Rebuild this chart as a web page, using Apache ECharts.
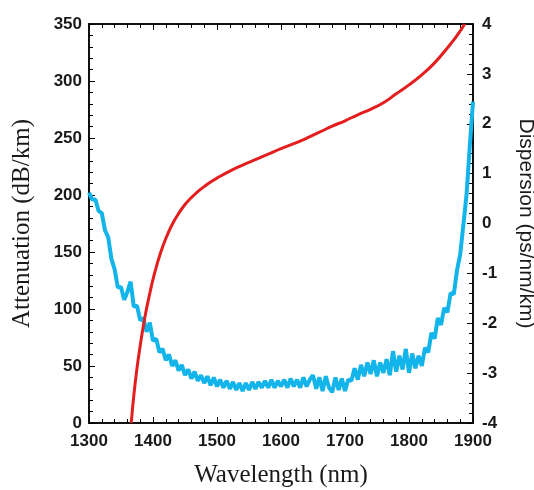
<!DOCTYPE html>
<html>
<head>
<meta charset="utf-8">
<script src="https://cdn.jsdelivr.net/npm/echarts@6/dist/echarts.min.js"></script>
<style>
  html, body { margin: 0; padding: 0; background: #fff; }
  #chart { width: 534px; height: 490px; }
</style>
</head>
<body>
<div id="chart"></div>
<script>
// 衰减：每 5 nm 一个点
var attWavelengths = [];
for (var w = 1300; w <= 1900; w += 5) attWavelengths.push(w);
var attenuation = [
  202, 196, 196, 186, 184, 169, 163, 144, 135, 119,
  119, 108, 115, 124, 102, 103, 90, 92, 80, 88,
  72, 74, 62, 65, 55, 60, 50, 55, 46, 51,
  42, 47, 39, 45, 37, 42, 35, 41, 33, 40,
  32, 38, 31, 37, 30, 36, 29, 35, 28, 35,
  29, 36, 30, 36, 31, 37, 31, 38, 31, 37,
  32, 38, 31, 39, 32, 38, 31, 40, 32, 38,
  42, 30, 40, 28, 41, 31, 27, 40, 29, 39,
  28, 38, 37, 48, 38, 51, 41, 53, 43, 55,
  41, 53, 44, 56, 42, 63, 45, 59, 47, 65,
  44, 61, 48, 59, 50, 66, 62, 79, 74, 92,
  86, 101, 97, 114, 113, 134, 148, 174, 201, 243,
  282
];

// 色散曲线
var dispWavelengths = [1366, 1370, 1375, 1380, 1385, 1390, 1395, 1400, 1405, 1410,
  1420, 1430, 1440, 1450, 1460, 1470, 1480, 1490, 1500, 1520,
  1540, 1560, 1580, 1600, 1620, 1640, 1660, 1680, 1700, 1720,
  1740, 1760, 1780, 1800, 1820, 1840, 1860, 1870, 1880, 1887];
var dispersion = [-4.0, -3.45, -2.9, -2.45, -2.05, -1.7, -1.4, -1.12, -0.88, -0.66,
  -0.3, -0.02, 0.2, 0.38, 0.52, 0.64, 0.74, 0.83, 0.91, 1.05,
  1.17, 1.28, 1.39, 1.5, 1.6, 1.71, 1.83, 1.95, 2.06, 2.18,
  2.29, 2.42, 2.6, 2.78, 2.98, 3.22, 3.52, 3.68, 3.86, 4.0];

var plain = function (v) { return String(v); };

// 刻度朝内：用负长度
function axisBase(extra) {
  var base = {
    axisLine: { show: true, onZero: false, lineStyle: { color: '#111', width: 2 } },
    axisTick: { show: true, inside: false, length: -6, lineStyle: { color: '#000', width: 1 } },
    minorTick: { show: true, splitNumber: 5, length: -4, lineStyle: { color: '#000', width: 1 } },
    splitLine: { show: false },
    minorSplitLine: { show: false }
  };
  for (var k in extra) base[k] = extra[k];
  return base;
}
function labelStyle(margin) {
  return { margin: margin, formatter: plain, color: '#1a1a1a', fontFamily: 'Liberation Sans', fontWeight: 'bold', fontSize: 17 };
}

var chart = echarts.init(document.getElementById('chart'));
var option = {
  animation: false,
  grid: { left: 89, right: 61, top: 24, bottom: 67, outerBoundsMode: 'none' },
  xAxis: [
    axisBase({
      type: 'value', position: 'bottom', min: 1300, max: 1900, interval: 100,
      name: 'Wavelength (nm)', nameLocation: 'middle', nameGap: 40,
      nameTextStyle: { fontFamily: 'Liberation Serif', fontSize: 25, color: '#1a1a1a' },
      axisLabel: labelStyle(10)
    }),
    axisBase({
      type: 'value', position: 'top', min: 1300, max: 1900, interval: 100,
      axisLabel: { show: false }
    })
  ],
  yAxis: [
    axisBase({
      type: 'value', position: 'left', min: 0, max: 350, interval: 50,
      name: 'Attenuation (dB/km)', nameLocation: 'middle', nameGap: 54, nameRotate: 90,
      nameTextStyle: { fontFamily: 'Liberation Serif', fontSize: 25, color: '#1a1a1a' },
      axisLabel: labelStyle(7)
    }),
    axisBase({
      type: 'value', position: 'right', min: -4, max: 4, interval: 1,
      name: 'Dispersion (ps/nm/km)', nameLocation: 'middle', nameGap: 42, nameRotate: -90,
      nameTextStyle: { fontFamily: 'Liberation Sans', fontSize: 21, color: '#1a1a1a' },
      axisLabel: labelStyle(9)
    })
  ],
  series: [
    {
      name: 'Attenuation', type: 'line', yAxisIndex: 0, xAxisIndex: 0,
      showSymbol: false,
      lineStyle: { color: '#12b4ea', width: 4 },
      data: attWavelengths.map(function (x, i) { return [x, attenuation[i]]; })
    },
    {
      name: 'Dispersion', type: 'line', yAxisIndex: 1, xAxisIndex: 0,
      showSymbol: false, smooth: true,
      lineStyle: { color: '#e41e1e', width: 3 },
      data: dispWavelengths.map(function (x, i) { return [x, dispersion[i]]; })
    }
  ]
};
chart.setOption(option);
</script>
</body>
</html>
